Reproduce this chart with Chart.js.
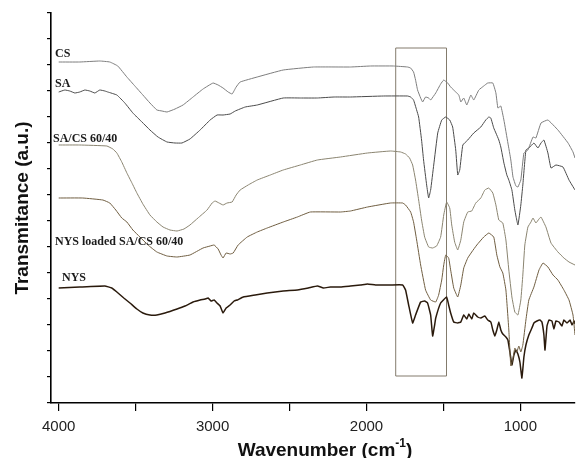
<!DOCTYPE html>
<html>
<head>
<meta charset="utf-8">
<script src="https://cdn.jsdelivr.net/npm/chart.js@4.4.1/dist/chart.umd.min.js"></script>
<style>
  html, body { margin: 0; padding: 0; background: #fff; }
  canvas { display: block; }
</style>
</head>
<body>
<canvas id="grafico" width="576" height="458"></canvas>
<script>
// spectra: [wavenumber, transmittance (a.u., offset)]
const csPts = [[4000,341],[3863,341],[3733,342],[3668,341],[3616,337],[3557,326],[3505,317],[3453,308],[3407,300],[3362,293],[3329,292],[3296,291],[3244,294],[3192,298],[3127,306],[3062,314],[2997,320],[2964,318],[2932,315],[2899,311],[2873,309],[2847,316],[2821,321],[2710,326],[2541,333],[2345,336],[2104,336],[1974,337],[1824,337],[1733,336],[1713,335],[1694,331],[1681,323],[1668,313],[1648,305],[1635,301],[1616,306],[1596,305],[1583,303],[1550,310],[1518,319],[1498,323],[1472,320],[1453,316],[1420,311],[1400,308],[1387,301],[1368,305],[1348,298],[1322,308],[1303,303],[1270,313],[1238,317],[1212,320],[1179,320],[1159,310],[1146,295],[1127,297],[1107,283],[1081,260],[1062,243],[1048,226],[1029,217],[1016,216],[997,223],[977,250],[951,253],[918,266],[899,265],[866,280],[821,283],[756,273],[690,260],[658,251],[645,245]]

const saPts = [[4000,311],[3960,313],[3928,312],[3895,310],[3863,311],[3830,313],[3798,312],[3765,310],[3733,313],[3700,312],[3681,311],[3622,308],[3570,300],[3518,290],[3459,281],[3407,273],[3355,266],[3296,261],[3244,260],[3199,260],[3147,264],[3081,273],[3016,283],[2971,288],[2932,288],[2886,289],[2853,292],[2788,296],[2710,298],[2541,305],[2430,305],[2319,305],[2210,306],[2104,306],[1889,307],[1733,307],[1713,306],[1694,303],[1674,293],[1661,286],[1642,263],[1629,243],[1609,218],[1596,205],[1583,213],[1563,238],[1537,270],[1511,283],[1485,286],[1459,283],[1440,276],[1420,253],[1407,228],[1394,233],[1374,258],[1342,263],[1303,270],[1257,276],[1225,283],[1205,286],[1192,285],[1173,275],[1159,270],[1140,263],[1127,256],[1107,240],[1088,228],[1075,223],[1055,213],[1036,193],[1016,178],[997,198],[984,218],[964,253],[945,255],[912,260],[886,255],[866,260],[847,263],[821,250],[801,235],[769,238],[723,236],[684,223],[645,213]]

const sacsPts = [[4000,258],[3863,258],[3687,257],[3648,254],[3622,250],[3590,241],[3557,230],[3524,220],[3492,210],[3453,199],[3407,188],[3362,181],[3322,176],[3277,173],[3231,172],[3186,174],[3147,178],[3095,185],[3036,193],[3003,200],[2984,202],[2958,200],[2932,198],[2906,200],[2873,201],[2847,208],[2821,213],[2769,218],[2710,223],[2625,228],[2541,233],[2430,238],[2319,243],[2169,246],[1993,250],[1844,252],[1778,251],[1746,249],[1720,245],[1700,238],[1681,223],[1661,203],[1642,183],[1622,166],[1596,156],[1570,155],[1544,157],[1518,166],[1498,188],[1479,201],[1459,195],[1446,178],[1427,161],[1407,153],[1387,163],[1368,181],[1342,191],[1316,192],[1290,200],[1257,205],[1231,213],[1205,215],[1179,210],[1159,198],[1140,183],[1114,180],[1094,163],[1075,133],[1055,106],[1036,91],[1016,88],[997,103],[984,128],[971,158],[951,176],[931,181],[918,185],[899,180],[879,184],[866,186],[834,176],[801,160],[756,151],[717,145],[684,141],[645,138]]

const nysLoadedPts = [[4000,205],[3844,205],[3713,203],[3668,200],[3629,193],[3590,185],[3557,181],[3518,173],[3472,166],[3420,158],[3362,151],[3296,147],[3231,146],[3147,148],[3062,155],[3016,157],[2990,158],[2964,154],[2945,148],[2932,145],[2912,150],[2886,149],[2866,150],[2834,158],[2775,166],[2710,171],[2645,175],[2541,181],[2449,186],[2365,191],[2169,191],[2104,192],[1993,196],[1844,200],[1765,200],[1746,198],[1713,191],[1694,181],[1674,163],[1648,138],[1616,113],[1583,103],[1550,101],[1531,108],[1511,123],[1498,138],[1485,148],[1466,145],[1453,133],[1433,115],[1407,106],[1387,118],[1368,135],[1342,145],[1316,151],[1283,158],[1238,166],[1205,170],[1173,166],[1153,148],[1133,136],[1114,130],[1094,113],[1075,73],[1062,37],[1048,45],[1036,55],[1023,51],[1010,57],[997,51],[984,58],[964,83],[945,103],[912,116],[879,133],[853,140],[821,136],[788,128],[756,123],[717,113],[684,103],[658,88],[645,68]]

const nysPts = [[4000,115],[3863,116],[3700,117],[3655,115],[3622,111],[3577,105],[3537,100],[3492,94],[3453,90],[3407,88],[3362,88],[3309,90],[3231,94],[3179,97],[3127,101],[3081,103],[3049,104],[3029,105],[3010,102],[2990,103],[2971,100],[2951,97],[2932,90],[2912,95],[2886,98],[2860,102],[2840,103],[2801,106],[2723,108],[2645,110],[2541,112],[2449,113],[2378,115],[2319,117],[2280,115],[2234,116],[2169,116],[2104,117],[2039,118],[1993,119],[1941,118],[1844,118],[1765,118],[1746,113],[1726,98],[1700,80],[1681,88],[1648,101],[1622,102],[1603,100],[1583,88],[1570,67],[1557,78],[1550,85],[1518,100],[1479,106],[1466,98],[1453,90],[1433,81],[1407,80],[1387,81],[1368,88],[1348,84],[1335,89],[1316,84],[1303,90],[1277,86],[1257,85],[1231,87],[1212,83],[1192,81],[1179,73],[1166,67],[1153,73],[1140,81],[1127,73],[1114,69],[1094,66],[1081,63],[1068,51],[1055,38],[1042,48],[1029,53],[1016,49],[1003,41],[990,25],[977,46],[964,58],[945,68],[925,75],[912,80],[892,82],[873,83],[860,81],[847,68],[840,53],[827,77],[814,83],[795,82],[782,74],[769,82],[749,81],[730,77],[717,83],[697,80],[677,83],[664,78],[651,82],[645,79]]

const seriesNames = ['CS', 'SA', 'SA/CS 60/40', 'NYS loaded SA/CS 60/40', 'NYS']
const seriesColors = ['#7d7d7d', '#4a4a4a', '#8a8470', '#6f5d40', '#2a1a0c']
const seriesWidths = [1, 1, 1, 1, 1.5]

// x ticks: labelled every 1000, minor mark every 500; y ticks unlabelled
const xTickValues = [1000, 1500, 2000, 2500, 3000, 3500, 4000]
const xTickLabels = ['1000', '', '2000', '', '3000', '', '4000']
const yTickValues = [0, 26, 52, 78, 104, 130, 156, 182, 208, 234, 260, 286, 312, 338, 364, 390]

// highlighted region (wavenumber span, transmittance span)
const boxWn = [1810, 1480]
const boxT = [27, 355]

const xMin = 645
const xMax = 4050
const yMax = 390

const FONT = '"Liberation Sans", Arial, sans-serif'
const SERIF = '"Liberation Serif", "Times New Roman", serif'

const allPts = [csPts, saPts, sacsPts, nysLoadedPts, nysPts]

const datasets = allPts.map((pts, i) => ({
  label: seriesNames[i],
  data: pts.map(p => ({ x: p[0], y: p[1] })),
  borderColor: seriesColors[i],
  borderWidth: seriesWidths[i],
  pointRadius: 0,
  showLine: true,
  tension: 0.1
}))

datasets.push({
  label: 'box',
  data: [
    { x: boxWn[0], y: boxT[1] }, { x: boxWn[1], y: boxT[1] },
    { x: boxWn[1], y: boxT[0] }, { x: boxWn[0], y: boxT[0] },
    { x: boxWn[0], y: boxT[1] }
  ],
  borderColor: '#837b6c',
  borderWidth: 1,
  pointRadius: 0,
  showLine: true,
  tension: 0
})

// curve names and x-axis title (with superscript)
const textos = {
  id: 'textos',
  afterDraw(chart) {
    const ctx = chart.ctx
    ctx.save()
    ctx.fillStyle = '#1c1c1c'
    ctx.font = 'bold 12px ' + SERIF
    ctx.textBaseline = 'alphabetic'
    ctx.textAlign = 'left'
    const pos = [[55, 57], [55, 87], [53, 142], [55, 245], [62, 281]]
    seriesNames.forEach((n, i) => ctx.fillText(n, pos[i][0], pos[i][1]))

    const main = 'Wavenumber (cm'
    const sup = '-1'
    const end = ')'
    ctx.fillStyle = '#111'
    ctx.font = 'bold 19px ' + FONT
    const w1 = ctx.measureText(main).width
    const w3 = ctx.measureText(end).width
    ctx.font = 'bold 12px ' + FONT
    const w2 = ctx.measureText(sup).width
    let x = 325 - (w1 + w2 + w3) / 2
    const y = 456
    ctx.font = 'bold 19px ' + FONT
    ctx.fillText(main, x, y)
    x += w1
    ctx.font = 'bold 12px ' + FONT
    ctx.fillText(sup, x, y - 9)
    x += w2
    ctx.font = 'bold 19px ' + FONT
    ctx.fillText(end, x, y)
    ctx.restore()
  }
}

new Chart(document.getElementById('grafico'), {
  type: 'scatter',
  data: { datasets },
  options: {
    responsive: false,
    animation: false,
    devicePixelRatio: 1,
    layout: { padding: { top: 13, right: 1, left: 0, bottom: 0 } },
    plugins: {
      legend: { display: false },
      tooltip: { enabled: false }
    },
    scales: {
      x: {
        type: 'linear',
        reverse: true,
        min: xMin,
        max: xMax,
        afterBuildTicks: s => { s.ticks = xTickValues.map(v => ({ value: v })) },
        afterFit: s => { s.height = 55 },
        ticks: {
          autoSkip: false,
          maxRotation: 0,
          padding: 7,
          color: '#222',
          font: { family: FONT, size: 15 },
          callback: (v, i) => xTickLabels[i]
        },
        grid: { drawOnChartArea: false, drawTicks: true, tickLength: 8, color: '#000', lineWidth: 1.2 },
        border: { display: true, color: '#000', width: 1.6 }
      },
      y: {
        min: 0,
        max: yMax,
        afterBuildTicks: s => { s.ticks = yTickValues.map(v => ({ value: v })) },
        afterFit: s => { s.width = 51 },
        ticks: { autoSkip: false, callback: () => '' },
        grid: { drawOnChartArea: false, drawTicks: true, tickLength: 4, color: '#000', lineWidth: 1.2 },
        border: { display: true, color: '#000', width: 1.6 },
        title: {
          display: true,
          text: 'Transmitance (a.u.)',
          color: '#111',
          font: { family: FONT, size: 19, weight: 'bold' },
          padding: { top: 11, bottom: 0 }
        }
      }
    }
  },
  plugins: [textos]
})
</script>
</body>
</html>
